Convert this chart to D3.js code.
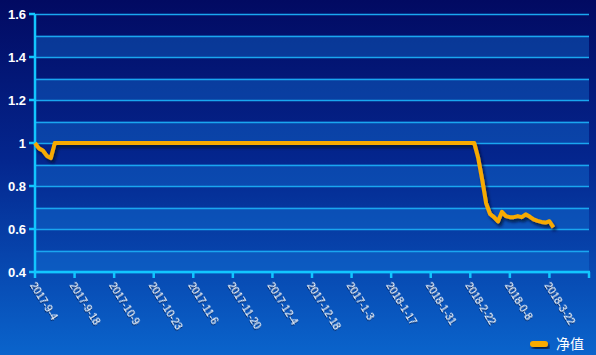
<!DOCTYPE html>
<html>
<head>
<meta charset="utf-8">
<script src="https://cdn.jsdelivr.net/npm/d3@7"></script>
<style>
  html, body { margin: 0; padding: 0; background: #0a3ca8; }
  svg { display: block; }
</style>
</head>
<body>
<svg id="chart" width="596" height="355"></svg>
<script>
// tick labels (one every 10 trading days)
var tickLabels = ['2017-9-4','2017-9-18','2017-10-9','2017-10-23','2017-11-6','2017-11-20',
                  '2017-12-4','2017-12-18','2017-1-3','2018-1-17','2018-1-31','2018-2-22',
                  '2018-0-8','2018-3-22'];
var tickStep = 10;
var categoryCount = 141;
var seriesName = '净值';

// net value per trading day
var netValues = [
  1.0, 0.975, 0.965, 0.94, 0.93, 1.0, 1.0, 1.0, 1.0, 1.0,
  1.0, 1.0, 1.0, 1.0, 1.0, 1.0, 1.0, 1.0, 1.0, 1.0,
  1.0, 1.0, 1.0, 1.0, 1.0, 1.0, 1.0, 1.0, 1.0, 1.0,
  1.0, 1.0, 1.0, 1.0, 1.0, 1.0, 1.0, 1.0, 1.0, 1.0,
  1.0, 1.0, 1.0, 1.0, 1.0, 1.0, 1.0, 1.0, 1.0, 1.0,
  1.0, 1.0, 1.0, 1.0, 1.0, 1.0, 1.0, 1.0, 1.0, 1.0,
  1.0, 1.0, 1.0, 1.0, 1.0, 1.0, 1.0, 1.0, 1.0, 1.0,
  1.0, 1.0, 1.0, 1.0, 1.0, 1.0, 1.0, 1.0, 1.0, 1.0,
  1.0, 1.0, 1.0, 1.0, 1.0, 1.0, 1.0, 1.0, 1.0, 1.0,
  1.0, 1.0, 1.0, 1.0, 1.0, 1.0, 1.0, 1.0, 1.0, 1.0,
  1.0, 1.0, 1.0, 1.0, 1.0, 1.0, 1.0, 1.0, 1.0, 1.0,
  1.0, 1.0, 0.93, 0.83, 0.72, 0.67, 0.655, 0.635, 0.68, 0.66,
  0.655, 0.655, 0.66, 0.655, 0.668, 0.658, 0.645, 0.638, 0.633, 0.63,
  0.636, 0.608
];

var yTicks = [0.4, 0.6, 0.8, 1.0, 1.2, 1.4, 1.6];

var W = 596, H = 355;
var margin = {left: 35, right: 7, top: 14, bottom: 83};
var width = W - margin.left - margin.right;
var height = H - margin.top - margin.bottom;

var svg = d3.select('#chart');
var defs = svg.append('defs');

var grad = defs.append('linearGradient')
  .attr('id', 'bg').attr('x1', 0).attr('y1', 0).attr('x2', 0).attr('y2', 1);
grad.append('stop').attr('offset', '0%').attr('stop-color', '#020a62');
grad.append('stop').attr('offset', '45%').attr('stop-color', '#04268e');
grad.append('stop').attr('offset', '100%').attr('stop-color', '#0a64cc');

var shadow = defs.append('filter').attr('id', 'shadow')
  .attr('x', '-10%').attr('y', '-10%').attr('width', '120%').attr('height', '130%');
shadow.append('feDropShadow').attr('dx', 2).attr('dy', 3).attr('stdDeviation', 1.5)
  .attr('flood-color', '#000a30').attr('flood-opacity', 0.8);

var textShadow = defs.append('filter').attr('id', 'tshadow');
textShadow.append('feDropShadow').attr('dx', 1).attr('dy', 1).attr('stdDeviation', 0.6)
  .attr('flood-color', '#001040').attr('flood-opacity', 0.7);

svg.append('rect').attr('width', W).attr('height', H).attr('fill', 'url(#bg)');

var x = d3.scaleLinear().domain([0, categoryCount - 1]).range([0, width]);
var y = d3.scaleLinear().domain([0.4, 1.6]).range([height, 0]);

var g = svg.append('g').attr('transform', 'translate(' + margin.left + ',' + margin.top + ')');

// alternating bands, one every 0.1
var bands = d3.range(0, 12).map(function(i){ return 0.4 + i * 0.1; });
g.selectAll('rect.band')
  .data(bands.filter(function(d, i){ return i % 2 == 0; }))
  .join('rect')
    .attr('class', 'band')
    .attr('x', 0)
    .attr('width', width)
    .attr('y', function(d){ return y(d + 0.1); })
    .attr('height', function(d){ return y(d) - y(d + 0.1); })
    .attr('fill', 'rgba(20,120,220,0.38)');

// grid lines
g.selectAll('line.grid')
  .data(d3.range(0, 13).map(function(i){ return 0.4 + i * 0.1; }))
  .join('line')
    .attr('class', 'grid')
    .attr('x1', 0).attr('x2', width)
    .attr('y1', function(d){ return Math.round(y(d)) + 0.5; })
    .attr('y2', function(d){ return Math.round(y(d)) + 0.5; })
    .attr('stroke', '#1aa6f0')
    .attr('stroke-width', 1.5);

// y axis
var yAxis = g.append('g').attr('class', 'y-axis');
yAxis.append('line')
  .attr('x1', 0).attr('x2', 0).attr('y1', 0).attr('y2', height + 1)
  .attr('stroke', '#12c6ff').attr('stroke-width', 2.5);
yAxis.selectAll('line.tick')
  .data(yTicks)
  .join('line')
    .attr('class', 'tick')
    .attr('x1', -6).attr('x2', 0)
    .attr('y1', function(d){ return y(d); })
    .attr('y2', function(d){ return y(d); })
    .attr('stroke', '#12c6ff').attr('stroke-width', 2.5);
yAxis.selectAll('text')
  .data(yTicks)
  .join('text')
    .attr('x', -9)
    .attr('y', function(d){ return y(d); })
    .attr('dy', '0.36em')
    .attr('text-anchor', 'end')
    .attr('fill', '#ffffff')
    .attr('font-family', 'Liberation Sans, Arial, sans-serif')
    .attr('font-weight', 'bold')
    .attr('font-size', 13)
    .text(function(d){ return d == 1 ? '1' : d.toFixed(1); });

// x axis
var xTickIdx = d3.range(0, categoryCount, tickStep);
var xAxis = g.append('g').attr('class', 'x-axis').attr('transform', 'translate(0,' + height + ')');
xAxis.append('line')
  .attr('x1', -1).attr('x2', width + 1)
  .attr('stroke', '#12c6ff').attr('stroke-width', 2.5);
xAxis.selectAll('line.tick')
  .data(xTickIdx)
  .join('line')
    .attr('class', 'tick')
    .attr('x1', function(d){ return x(d); }).attr('x2', function(d){ return x(d); })
    .attr('y1', 0).attr('y2', 6)
    .attr('stroke', '#12c6ff').attr('stroke-width', 2.5);
xAxis.selectAll('text')
  .data(tickLabels)
  .join('text')
    .attr('transform', function(d, i){ return 'translate(' + (x(i * tickStep) - 2) + ',11) rotate(58)'; })
    .attr('dy', '0.35em')
    .attr('text-anchor', 'start')
    .attr('fill', '#ffffff')
    .attr('font-family', 'Liberation Sans, Arial, sans-serif')
    .attr('font-size', 10.5)
    .attr('filter', 'url(#tshadow)')
    .text(function(d){ return d; });

// net value line
var line = d3.line()
  .x(function(d, i){ return x(i); })
  .y(function(d){ return y(d); });

g.append('path')
  .datum(netValues)
  .attr('d', line)
  .attr('fill', 'none')
  .attr('stroke', '#f7aa00')
  .attr('stroke-width', 4)
  .attr('stroke-linejoin', 'round')
  .attr('filter', 'url(#shadow)');

// legend
var legend = svg.append('g').attr('transform', 'translate(530,344)');
legend.append('rect')
  .attr('x', 0).attr('y', -3).attr('width', 18).attr('height', 6).attr('rx', 3)
  .attr('fill', '#f7aa00')
  .attr('filter', 'url(#shadow)');
legend.append('text')
  .attr('x', 26).attr('y', 0).attr('dy', '0.36em')
  .attr('fill', '#ffffff')
  .attr('font-family', 'Noto Sans CJK SC, sans-serif')
  .attr('font-size', 14)
  .text(seriesName);
</script>
</body>
</html>
